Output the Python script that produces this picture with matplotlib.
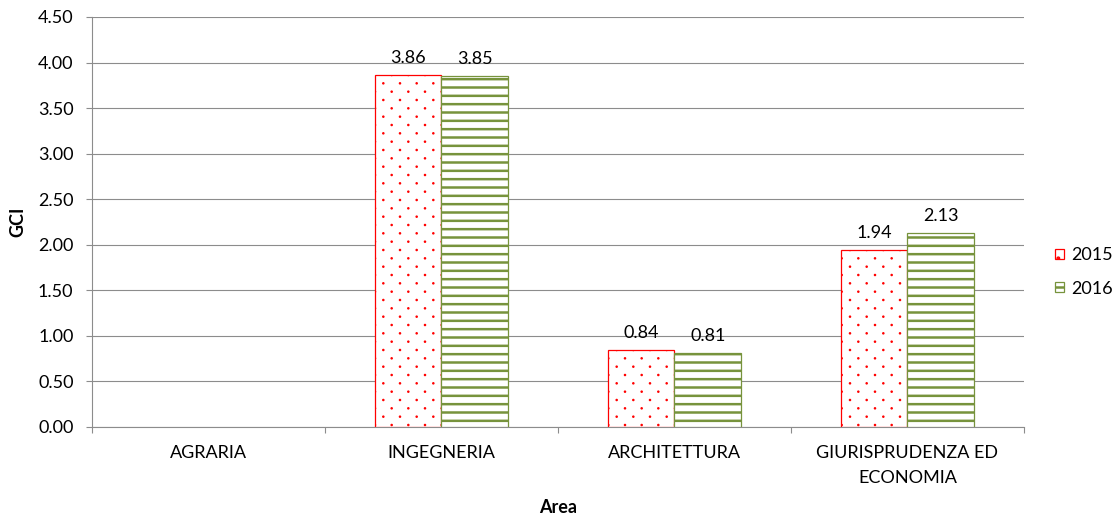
import numpy as np
import matplotlib
matplotlib.use("Agg")
import matplotlib.pyplot as plt
import matplotlib.hatch as mhatch
from matplotlib.path import Path

# ---- data -------------------------------------------------------------
categories = ["AGRARIA", "INGEGNERIA", "ARCHITETTURA", "GIURISPRUDENZA ED\nECONOMIA"]
years = ["2015", "2016"]
gci_2015 = [np.nan, 3.86, 0.84, 1.94]
gci_2016 = [np.nan, 3.85, 0.81, 2.13]
y_ticks = [0.0, 0.5, 1.0, 1.5, 2.0, 2.5, 3.0, 3.5, 4.0, 4.5]


# ---- dotted fill: small dots on a staggered (diamond) lattice ----------
class DiamondDots(mhatch.HatchPatternBase):
    radius = 0.007

    def __init__(self, hatch, density):
        self.n = hatch.count('.') * density
        circle = Path.unit_circle()
        self.shape_vertices = circle.vertices
        self.shape_codes = circle.codes
        if self.n:
            npts = (self.n + 1) * (self.n + 1) + self.n * self.n
            self.num_vertices = npts * len(self.shape_vertices)
        else:
            self.num_vertices = 0

    def set_vertices_and_codes(self, vertices, codes):
        n = self.n
        step = 1.0 / n
        shape = self.shape_vertices * self.radius
        vparts, cparts = [], []
        for row in range(2 * n + 1):
            if row % 2 == 0:
                cols = np.linspace(0, 1, n + 1)
            else:
                cols = np.linspace(step / 2, 1 - step / 2, n)
            y = row * step / 2
            for x in cols:
                vparts.append(shape + [x, y])
                cparts.append(self.shape_codes)
        np.concatenate(vparts, out=vertices)
        np.concatenate(cparts, out=codes)


mhatch._hatch_types = [h for h in mhatch._hatch_types
                       if h is not mhatch.SmallFilledCircles] + [DiamondDots]

plt.rcParams['font.family'] = ['Lato', 'DejaVu Sans']

RED = '#FF0000'
GREEN = '#77933C'
GRID = '#8C8C8C'
FS = 13

fig = plt.figure(figsize=(11.19, 5.18), dpi=100)
ax = fig.add_axes([0.0822, 0.1757, 0.9151 - 0.0822, 0.9672 - 0.1757])

x = np.arange(len(categories))
w = 0.287

plt.rcParams['hatch.linewidth'] = 0.8
b1 = ax.bar(x - w / 2, gci_2015, w, facecolor='white', edgecolor=RED,
            hatch='.', linewidth=0.9, label=years[0], zorder=3)
plt.rcParams['hatch.linewidth'] = 1.8
b2 = ax.bar(x + w / 2, gci_2016, w, facecolor='white', edgecolor=GREEN,
            hatch='--', linewidth=0.9, label=years[1], zorder=3)

for bars, vals in ((b1, gci_2015), (b2, gci_2016)):
    labels = ['' if np.isnan(v) else f'{v:.2f}' for v in vals]
    ax.bar_label(bars, labels=labels, padding=6.5, fontsize=FS, color='black')

ax.set_xlim(-0.5, len(categories) - 0.5)
ax.set_ylim(0, 4.5)
ax.set_yticks(y_ticks)
ax.set_yticklabels([f'{t:.2f}' for t in y_ticks])
ax.yaxis.grid(True, color=GRID, linewidth=0.8, zorder=0)
ax.set_axisbelow(True)

ax.set_xticks(x)
ax.set_xticklabels(categories, linespacing=1.7)
ax.set_xticks(np.arange(len(categories) + 1) - 0.5, minor=True)
ax.tick_params(axis='x', which='major', length=0, pad=13, labelsize=FS)
ax.tick_params(axis='x', which='minor', length=4, width=0.8, color=GRID,
               direction='out')
ax.tick_params(axis='y', length=4.3, width=0.8, color=GRID, pad=9,
               labelsize=FS)

for side in ('top', 'right'):
    ax.spines[side].set_visible(False)
for side in ('left', 'bottom'):
    ax.spines[side].set_color(GRID)
    ax.spines[side].set_linewidth(0.8)

ax.set_ylabel('GCI', fontsize=FS, fontweight='bold', labelpad=8)
ax.set_xlabel('Area', fontsize=FS, fontweight='bold', labelpad=9)

ax.legend(loc='center left', bbox_to_anchor=(1.025, 0.378), frameon=False,
          fontsize=FS, handlelength=0.5, handleheight=0.5,
          handletextpad=0.4, labelspacing=0.95, borderaxespad=0)

fig.savefig('out.png', dpi=100)
